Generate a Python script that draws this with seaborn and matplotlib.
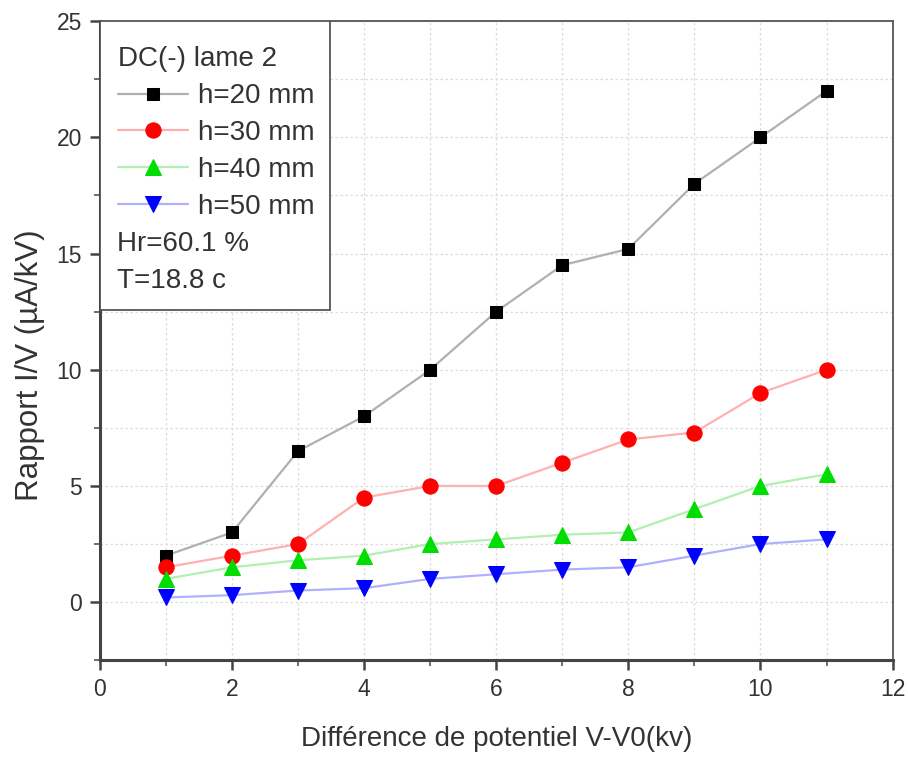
import numpy as np
import pandas as pd
import matplotlib
matplotlib.use("Agg")
import matplotlib.pyplot as plt
from matplotlib.patches import Rectangle
from matplotlib.ticker import MultipleLocator
import seaborn as sns

x_vals = [1, 2, 3, 4, 5, 6, 7, 8, 9, 10, 11]
h20 = [2.0, 3.0, 6.5, 8.0, 10.0, 12.5, 14.5, 15.2, 18.0, 20.0, 22.0]
h30 = [1.5, 2.0, 2.5, 4.5, 5.0, 5.0, 6.0, 7.0, 7.3, 9.0, 10.0]
h40 = [1.0, 1.5, 1.8, 2.0, 2.5, 2.7, 2.9, 3.0, 4.0, 5.0, 5.5]
h50 = [0.2, 0.3, 0.5, 0.6, 1.0, 1.2, 1.4, 1.5, 2.0, 2.5, 2.7]
labels = ["h=20 mm", "h=30 mm", "h=40 mm", "h=50 mm"]
legend_title = "DC(-) lame 2"
notes = ["Hr=60.1 %", "T=18.8 c"]

sns.set_style("white")
plt.rcParams['font.family'] = ['Liberation Sans', 'DejaVu Sans']
text_color = "#333333"

fig = plt.figure(figsize=(9.08, 7.58), dpi=100)
ax = fig.add_axes([0.110, 0.129, 0.873, 0.843])

series = [h20, h30, h40, h50]
mcolors = ["#000000", "#ff0000", "#00dd00", "#0000ff"]
lcolors = ["#b0b0b0", "#ffb0b0", "#b0f0b0", "#b0b0ff"]
markers = ["s", "o", "^", "v"]
msizes = [9, 11, 11, 11]

for ys, lab, mc, lc, mk, ms in zip(series, labels, mcolors, lcolors, markers, msizes):
    df = pd.DataFrame({"x": x_vals, "y": ys})
    sns.lineplot(data=df, x="x", y="y", ax=ax, color=lc, linewidth=1.6,
                 marker=mk, markersize=ms, markerfacecolor=mc,
                 markeredgecolor=mc, label=lab, zorder=3)

ax.set_xlim(0, 12)
ax.set_ylim(-2.5, 25)
ax.xaxis.set_major_locator(MultipleLocator(2))
ax.xaxis.set_minor_locator(MultipleLocator(1))
ax.yaxis.set_major_locator(MultipleLocator(5))
ax.yaxis.set_minor_locator(MultipleLocator(2.5))
ax.grid(True, which="both", color="#dcdcdc", linestyle=(0, (2, 2)), linewidth=0.9)
ax.set_axisbelow(True)

for s in ["left", "bottom"]:
    ax.spines[s].set_color("#444444")
    ax.spines[s].set_linewidth(2.2)
for s in ["top", "right"]:
    ax.spines[s].set_color("#555555")
    ax.spines[s].set_linewidth(1.3)

ax.tick_params(which="major", direction="out", length=7, width=1.8,
               colors="#444444", labelcolor=text_color, labelsize=16.5, pad=6,
               bottom=True, left=True)
ax.tick_params(which="minor", direction="out", length=4, width=1.2,
               colors="#555555", bottom=True, left=True)

ax.set_xlabel("Différence de potentiel V-V0(kv)", fontsize=20, color=text_color, labelpad=18)
ax.set_ylabel("Rapport I/V (µA/kV)", fontsize=22.5, color=text_color, labelpad=8, y=0.462)

# legend box
ax.add_patch(Rectangle((0, 0.548), 0.29, 0.452, transform=ax.transAxes,
                       facecolor="white", edgecolor="#555555", linewidth=1.3, zorder=5))
leg = ax.legend(loc="upper left", bbox_to_anchor=(0.009, 0.978), frameon=False,
                title=legend_title, title_fontsize=20, fontsize=20,
                handlelength=2.5, handletextpad=0.36, labelspacing=0.39,
                borderaxespad=0.0, alignment="left")
leg.set_zorder(6)
for t in leg.get_texts():
    t.set_color(text_color)
leg.get_title().set_color(text_color)

ax.text(0.021, 0.651, notes[0], transform=ax.transAxes,
        fontsize=20, color=text_color, va="center", ha="left", zorder=7)
ax.text(0.021, 0.593, notes[1], transform=ax.transAxes,
        fontsize=20, color=text_color, va="center", ha="left", zorder=7)

fig.savefig("out.png", dpi=100, facecolor="white")
